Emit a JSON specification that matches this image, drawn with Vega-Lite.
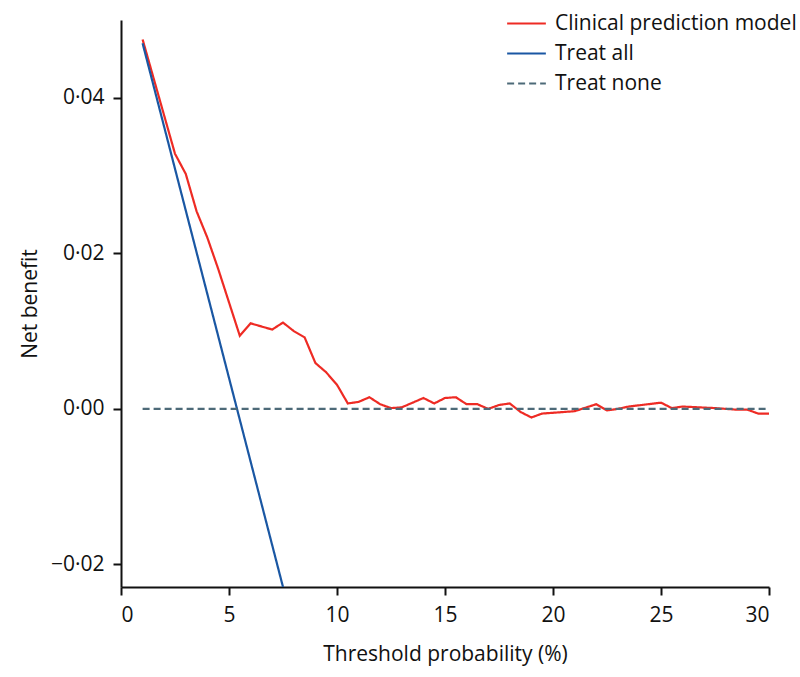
{
  "$schema": "https://vega.github.io/schema/vega-lite/v6.json",
  "autosize": {"type": "none"},
  "width": 648,
  "height": 567,
  "padding": {"left": 121, "top": 20, "right": 31, "bottom": 90},
  "background": "white",
  "config": {
    "view": {"stroke": null},
    "font": "Open Sans",
    "axis": {
      "domainColor": "#111111",
      "domainWidth": 2,
      "tickColor": "#111111",
      "tickWidth": 2,
      "tickSize": 8,
      "grid": false,
      "labelFont": "Open Sans",
      "labelFontSize": 21,
      "labelColor": "#111111",
      "titleFont": "Open Sans",
      "titleFontSize": 21,
      "titleFontWeight": "normal",
      "titleColor": "#111111"
    }
  },
  "data": {
    "values": [
      {"pt": 1, "nb": 0.0475, "series": "Clinical prediction model"},
      {"pt": 2.5, "nb": 0.0328, "series": "Clinical prediction model"},
      {"pt": 3, "nb": 0.0302, "series": "Clinical prediction model"},
      {"pt": 3.5, "nb": 0.0254, "series": "Clinical prediction model"},
      {"pt": 4, "nb": 0.0220, "series": "Clinical prediction model"},
      {"pt": 4.5, "nb": 0.0180, "series": "Clinical prediction model"},
      {"pt": 5, "nb": 0.0137, "series": "Clinical prediction model"},
      {"pt": 5.5, "nb": 0.0094, "series": "Clinical prediction model"},
      {"pt": 6, "nb": 0.0110, "series": "Clinical prediction model"},
      {"pt": 7, "nb": 0.0102, "series": "Clinical prediction model"},
      {"pt": 7.5, "nb": 0.0111, "series": "Clinical prediction model"},
      {"pt": 8, "nb": 0.0100, "series": "Clinical prediction model"},
      {"pt": 8.5, "nb": 0.0092, "series": "Clinical prediction model"},
      {"pt": 9, "nb": 0.0059, "series": "Clinical prediction model"},
      {"pt": 9.5, "nb": 0.0047, "series": "Clinical prediction model"},
      {"pt": 10, "nb": 0.0031, "series": "Clinical prediction model"},
      {"pt": 10.5, "nb": 0.0007, "series": "Clinical prediction model"},
      {"pt": 11, "nb": 0.0009, "series": "Clinical prediction model"},
      {"pt": 11.5, "nb": 0.0015, "series": "Clinical prediction model"},
      {"pt": 12, "nb": 0.0006, "series": "Clinical prediction model"},
      {"pt": 12.5, "nb": 0.0001, "series": "Clinical prediction model"},
      {"pt": 13, "nb": 0.0002, "series": "Clinical prediction model"},
      {"pt": 13.5, "nb": 0.0008, "series": "Clinical prediction model"},
      {"pt": 14, "nb": 0.0014, "series": "Clinical prediction model"},
      {"pt": 14.5, "nb": 0.0007, "series": "Clinical prediction model"},
      {"pt": 15, "nb": 0.0014, "series": "Clinical prediction model"},
      {"pt": 15.5, "nb": 0.0015, "series": "Clinical prediction model"},
      {"pt": 16, "nb": 0.0006, "series": "Clinical prediction model"},
      {"pt": 16.5, "nb": 0.0006, "series": "Clinical prediction model"},
      {"pt": 17, "nb": 0.0000, "series": "Clinical prediction model"},
      {"pt": 17.5, "nb": 0.0005, "series": "Clinical prediction model"},
      {"pt": 18, "nb": 0.0007, "series": "Clinical prediction model"},
      {"pt": 18.5, "nb": -0.0004, "series": "Clinical prediction model"},
      {"pt": 19, "nb": -0.0011, "series": "Clinical prediction model"},
      {"pt": 19.5, "nb": -0.0006, "series": "Clinical prediction model"},
      {"pt": 20, "nb": -0.0005, "series": "Clinical prediction model"},
      {"pt": 21, "nb": -0.0003, "series": "Clinical prediction model"},
      {"pt": 22, "nb": 0.0006, "series": "Clinical prediction model"},
      {"pt": 22.5, "nb": -0.0002, "series": "Clinical prediction model"},
      {"pt": 23, "nb": 0.0000, "series": "Clinical prediction model"},
      {"pt": 23.5, "nb": 0.0003, "series": "Clinical prediction model"},
      {"pt": 25, "nb": 0.0008, "series": "Clinical prediction model"},
      {"pt": 25.5, "nb": 0.0001, "series": "Clinical prediction model"},
      {"pt": 26, "nb": 0.0003, "series": "Clinical prediction model"},
      {"pt": 27.5, "nb": 0.0001, "series": "Clinical prediction model"},
      {"pt": 28, "nb": 0.0000, "series": "Clinical prediction model"},
      {"pt": 28.5, "nb": -0.0001, "series": "Clinical prediction model"},
      {"pt": 29, "nb": -0.0001, "series": "Clinical prediction model"},
      {"pt": 29.5, "nb": -0.0006, "series": "Clinical prediction model"},
      {"pt": 30, "nb": -0.0006, "series": "Clinical prediction model"},
      {"pt": 1, "nb": 0.0470, "series": "Treat all"},
      {"pt": 7.5, "nb": -0.0229, "series": "Treat all"},
      {"pt": 1, "nb": 0, "series": "Treat none"},
      {"pt": 30, "nb": 0, "series": "Treat none"}
    ]
  },
  "mark": {"type": "line", "strokeWidth": 2.2, "clip": true},
  "encoding": {
    "x": {
      "field": "pt",
      "type": "quantitative",
      "scale": {"domain": [0, 30], "nice": false, "zero": false},
      "axis": {"values": [0, 5, 10, 15, 20, 25, 30], "title": "Threshold probability (%)", "labelPadding": 9, "titlePadding": 18}
    },
    "y": {
      "field": "nb",
      "type": "quantitative",
      "scale": {"domain": [-0.0229, 0.05], "nice": false, "zero": false},
      "axis": {
        "values": [-0.02, 0, 0.02, 0.04],
        "labelExpr": "replace(format(datum.value, '.2f'), '.', '·')",
        "title": "Net benefit",
        "labelPadding": 9,
        "titlePadding": 10
      }
    },
    "color": {
      "field": "series",
      "type": "nominal",
      "scale": {
        "domain": ["Clinical prediction model", "Treat all", "Treat none"],
        "range": ["#ee2b24", "#1a57a3", "#4d6a78"]
      },
      "legend": {
        "title": null,
        "orient": "none",
        "legendX": 385,
        "legendY": -11,
        "symbolType": "stroke",
        "symbolSize": 1500,
        "symbolStrokeWidth": 2,
        "labelFont": "Open Sans",
        "labelFontSize": 21,
        "labelLimit": 400,
        "labelColor": "#111111",
        "labelOffset": 8,
        "clipHeight": 29,
        "rowPadding": 1
      }
    },
    "strokeDash": {
      "field": "series",
      "type": "nominal",
      "scale": {
        "domain": ["Clinical prediction model", "Treat all", "Treat none"],
        "range": [[1, 0], [1, 0], [7, 4]]
      },
      "legend": null
    }
  }
}
